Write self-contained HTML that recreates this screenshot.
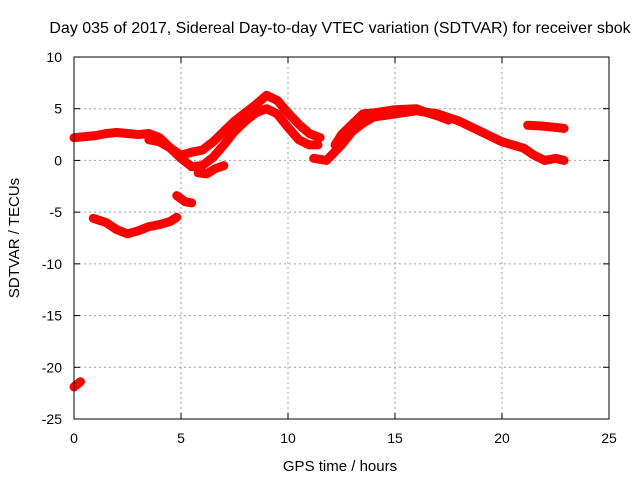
<!DOCTYPE html>
<html><head><meta charset="utf-8"><style>
body{margin:0;background:#fff;}
svg text{font-family:"Liberation Sans",sans-serif;font-size:14px;fill:#000;}
</style></head><body>
<svg id="chart" width="640" height="480">
<rect width="640" height="480" fill="#fff"/>
<text x="340" y="33" text-anchor="middle" style="font-size:16px">Day 035 of 2017, Sidereal Day-to-day VTEC variation (SDTVAR) for receiver sbok</text>
<text x="340" y="471" text-anchor="middle" style="font-size:15px">GPS time / hours</text>
<text transform="translate(19,238) rotate(-90)" text-anchor="middle" style="font-size:15px">SDTVAR / TECUs</text>
<g id="grid"></g><g id="series"></g><g id="axes"></g>
</svg>
<script>
const xTicks=[0,5,10,15,20,25];
const yTicks=[10,5,0,-5,-10,-15,-20,-25];
const bandA_t=[0,0.5,1,1.5,2,2.5,3,3.5,4,4.5,5,5.5,6,6.5,7,7.5,8,8.5,9,9.5,10,10.5,11,11.5];
const bandA_v=[2.2,2.3,2.4,2.6,2.7,2.6,2.5,2.6,2.2,1.2,0.5,0.8,1.0,1.8,2.8,3.8,4.6,5.4,6.3,5.8,4.6,3.5,2.6,2.2];
const bandB_t=[3.5,4,4.5,5,5.5,6,6.5,7,7.5,8,8.5,9,9.5,10,10.5,11,11.4];
const bandB_v=[2.0,1.8,1.2,0.2,-0.6,-0.5,0.3,1.5,2.8,3.8,4.6,5.0,4.5,3.2,2.0,1.5,1.5];
const bandC_t=[5.8,6.2,6.6,7.0];
const bandC_v=[-1.2,-1.3,-0.8,-0.5];
const bandD_t=[11.2,11.8,12.5,13,13.5,14,15,16,17,18,19,20,21,21.5,22,22.5,22.9];
const bandD_v=[0.2,0.0,1.5,2.8,3.6,4.2,4.5,4.8,4.5,3.8,2.8,1.8,1.2,0.5,0.0,0.2,0.0];
const bandE_t=[12.2,12.5,13,13.5,14,15,16,16.5,17,17.5];
const bandE_v=[1.5,2.5,3.5,4.5,4.6,4.9,5.0,4.6,4.3,3.9];
const bandF_t=[21.2,22,22.9];
const bandF_v=[3.4,3.3,3.1];
const bandG_t=[0.9,1.5,2,2.5,3,3.5,4,4.5,4.8];
const bandG_v=[-5.6,-6.0,-6.7,-7.1,-6.8,-6.4,-6.2,-5.9,-5.5];
const bandH_t=[4.8,5.2,5.5];
const bandH_v=[-3.4,-4.0,-4.1];
const bandI_t=[0.0,0.3];
const bandI_v=[-21.9,-21.4];
const X0=74,X1=609,Y0=419,Y1=57;
const sx=t=>X0+(t-0)/25*(X1-X0);
const sy=v=>Y0-(v+25)/35*(Y0-Y1);
const NS='http://www.w3.org/2000/svg';
function mk(tag,attrs,parent){const e=document.createElementNS(NS,tag);for(const k in attrs)e.setAttribute(k,attrs[k]);parent.appendChild(e);return e;}
const grid=document.getElementById('grid'),axes=document.getElementById('axes'),ser=document.getElementById('series');
xTicks.forEach(t=>{
 if(t>0&&t<25){const l=mk('line',{x1:sx(t),x2:sx(t),y1:Y1,y2:Y0,stroke:'#a0a0a0','stroke-dasharray':'2,3'},grid);
 }
 const tx=mk('text',{x:sx(t),y:Y0+24,'text-anchor':'middle'},axes);tx.textContent=t;
 
 mk('line',{x1:sx(t),x2:sx(t),y1:Y0,y2:Y0-6,stroke:'#000'},axes);
 mk('line',{x1:sx(t),x2:sx(t),y1:Y1,y2:Y1+6,stroke:'#000'},axes);
});
yTicks.forEach(v=>{
 if(v<10&&v>-25){const l=mk('line',{x1:X0,x2:X1,y1:sy(v),y2:sy(v),stroke:'#a0a0a0','stroke-dasharray':'2,3'},grid);
 }
 const tx=mk('text',{x:X0-12,y:sy(v)+5,'text-anchor':'end'},axes);tx.textContent=v;
 
 mk('line',{x1:X0,x2:X0+6,y1:sy(v),y2:sy(v),stroke:'#000'},axes);
 mk('line',{x1:X1,x2:X1-6,y1:sy(v),y2:sy(v),stroke:'#000'},axes);
});
const fr=mk('rect',{x:X0,y:Y1,width:X1-X0,height:Y0-Y1,fill:'none',stroke:'#000'},axes);

const bands=[[bandA_t,bandA_v],[bandB_t,bandB_v],[bandC_t,bandC_v],[bandD_t,bandD_v],[bandE_t,bandE_v],[bandF_t,bandF_v],[bandG_t,bandG_v],[bandH_t,bandH_v],[bandI_t,bandI_v]];
bands.forEach(([ts,vs])=>{
 const p=mk('polyline',{points:ts.map((t,i)=>sx(t)+','+sy(vs[i])).join(' '),fill:'none',stroke:'#ff0000','stroke-width':9,'stroke-linejoin':'round','stroke-linecap':'round'},ser);
 
 
});
</script>
</body></html>
